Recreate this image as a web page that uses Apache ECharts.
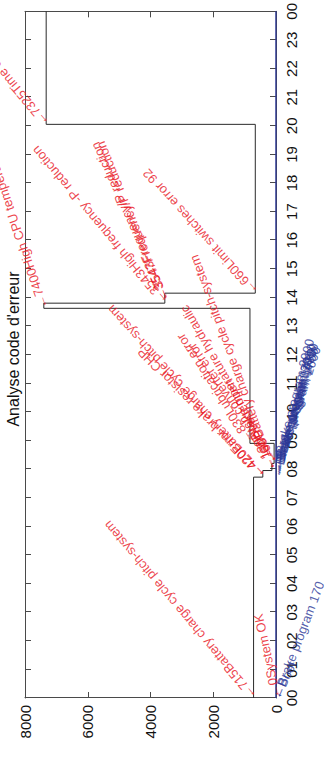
<!DOCTYPE html>
<html><head><meta charset="utf-8">
<script src="https://cdn.jsdelivr.net/npm/echarts@6/dist/echarts.min.js"></script>
<style>
html,body{margin:0;padding:0;width:328px;height:761px;overflow:hidden;background:#fff}
#chart{position:absolute;left:0;top:761px;width:761px;height:328px;transform-origin:0 0;transform:rotate(-90deg);}
</style></head><body><div id="chart"></div>
<script>
// ---- data ----
const hourTickLabels = ['00','01','02','03','04','05','06','07','08','09','10','11','12','13','14','15','16','17','18','19','20','21','22','23','00'];
const valueTickLabels = ['0', '2000', '4000', '6000', '8000'];
const stairTimes = [0, 7.72, 7.95, 8.2, 8.9, 13.62, 13.8, 14.15, 20.05, 24];
const stairCodes = [715, 420, 130, 60, 830, 7400, 3543, 660, 7325, 7325];
const statusLineTimes = [0, 24];
const statusLineCodes = [0, 0];
const faultTimes = [0, 0, 7.72, 7.72, 7.95, 7.95, 8.2, 8.2, 8.9, 13.62, 13.8, 13.85, 13.9, 14.15, 20.05];
const faultCodes = [715, 0, 420, 420, 130, 130, 60, 60, 830, 7400, 3543, 3547, 3543, 660, 7325];
const faultTexts = [
  '715Battery charge cycle pitch-system', '0System OK',
  '420Battery charge cycle pitch-system', '420Error brake resistor CHP',
  '130Battery charge cycle pitch-system', '130Brake open',
  '60Overtemperature hydraulic', '62Pitch converter error', '830Lubrication error',
  '7400High CPU temperature', '3543High frequency -P reduction',
  '3547Frequency/P reduction', '3543Frequency/P reduction',
  '660Limit switches error 92', '7325Time out of range'
];
const statusTimes = [0, 0, 7.72, 7.78, 7.85, 7.9, 7.95, 8.0, 8.1];
const statusCodes = [0, 0, 0, 0, 0, 0, 0, 0, 0];
const statusTexts = ['Brake program 170', 'Boot', 'Brake program 170', 'Brake program 1450',
  'Brake program 1750', 'Brake program 2000', 'Brake program 2080', 'Brake program 1750', 'Brake program 2000'];
// ---- layout (label angles) ----
const faultAngles = [40, 12, 42, 44, 20, 26, 30, 35, 33, 19, 40, 22, 24, 42, 40];
const statusAngles = [-21, -25, -15, -16, -17, -18, -16, -17, -15];

const FONT = '"Liberation Sans", Arial, Helvetica, sans-serif';
const RED = '#e8121c';
const BLUE = '#2b3797';
const AX = '#4a4a4a';

function stairs(ts, vs) { return ts.map((t, i) => [t, vs[i]]); }
function labels(ts, vs, txts, angs) {
  return ts.map((t, i) => ({ value: [t, vs[i]], label: { rotate: angs[i], formatter: '\u2190' + txts[i] } }));
}

const chart = echarts.init(document.getElementById('chart'), null, { renderer: 'svg', width: 761, height: 328 });
const tickCommon = { show: true, inside: true, length: 6, lineStyle: { color: AX } };
chart.setOption({
  animation: false,
  title: { text: "Analyse code d'erreur", left: 407, top: 0, textAlign: 'center',
    textStyle: { fontFamily: FONT, fontSize: 16, fontWeight: 'normal', color: '#111' } },
  grid: { left: 63, right: 10, top: 25, bottom: 52, containLabel: false },
  xAxis: [
    { type: 'value', min: 0, max: 24, interval: 1, position: 'bottom',
      axisLine: { show: true, onZero: false, lineStyle: { color: AX } }, axisTick: tickCommon, splitLine: { show: false },
      axisLabel: { margin: 8, fontFamily: FONT, fontSize: 15, color: '#111', formatter: v => hourTickLabels[Math.round(v)] } },
    { type: 'value', min: 0, max: 24, interval: 1, position: 'top',
      axisLine: { show: true, onZero: false, lineStyle: { color: AX } }, axisTick: tickCommon, splitLine: { show: false }, axisLabel: { show: false } }
  ],
  yAxis: [
    { type: 'value', min: 0, max: 8000, interval: 2000, position: 'left',
      axisLine: { show: true, onZero: false, lineStyle: { color: AX } }, axisTick: tickCommon, splitLine: { show: false },
      axisLabel: { margin: 7, fontFamily: FONT, fontSize: 15, color: '#111', formatter: v => valueTickLabels[Math.round(v / 2000)] } },
    { type: 'value', min: 0, max: 8000, interval: 2000, position: 'right',
      axisLine: { show: true, onZero: false, lineStyle: { color: AX } }, axisTick: tickCommon, splitLine: { show: false }, axisLabel: { show: false } }
  ],
  series: [
    { type: 'line', data: stairs(stairTimes, stairCodes), step: 'end', symbol: 'none',
      lineStyle: { color: '#2a2a2a', width: 1 }, z: 3 },
    { type: 'line', data: stairs(statusLineTimes, statusLineCodes), symbol: 'none',
      lineStyle: { color: BLUE, width: 1.5 }, z: 4 },
    { type: 'scatter', data: labels(faultTimes, faultCodes, faultTexts, faultAngles), symbolSize: 0.1,
      itemStyle: { color: 'transparent' }, z: 5,
      label: { show: true, position: 'right', distance: 0, color: RED, fontFamily: FONT, fontSize: 13 } },
    { type: 'scatter', data: labels(statusTimes, statusCodes, statusTexts, statusAngles), symbolSize: 0.1,
      itemStyle: { color: 'transparent' }, z: 5,
      label: { show: true, position: 'right', distance: 0, color: BLUE, fontFamily: FONT, fontSize: 13 } }
  ]
});
</script></body></html>
